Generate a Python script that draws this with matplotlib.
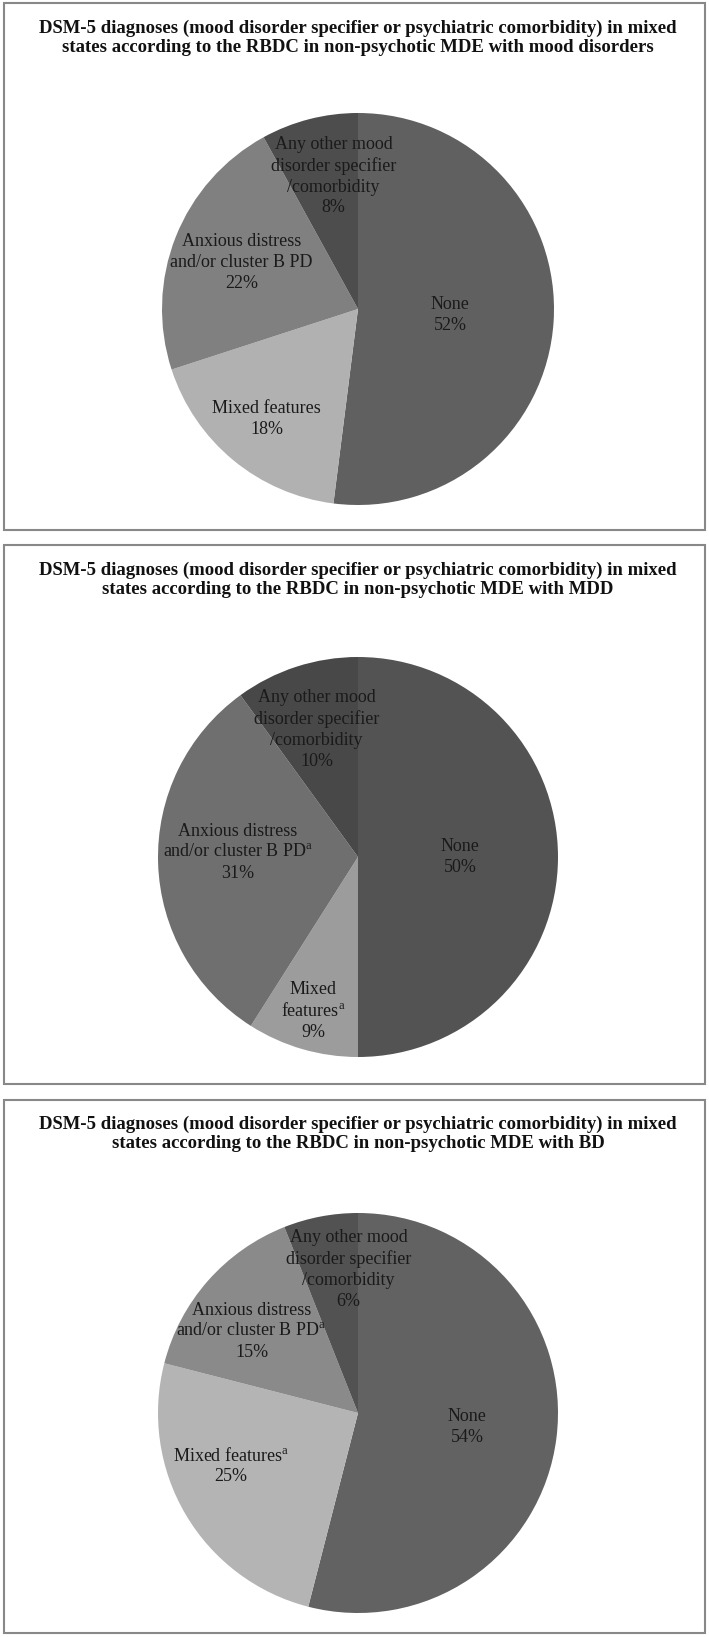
import numpy as np
import matplotlib
matplotlib.use('Agg')
import matplotlib.pyplot as plt
from matplotlib.patches import Rectangle

plt.rcParams['font.family'] = ['Liberation Serif', 'DejaVu Serif']
plt.rcParams['mathtext.fontset'] = 'custom'
plt.rcParams['mathtext.rm'] = 'Liberation Serif'

W, H = 709, 1637

# data
titles = [
    'DSM-5 diagnoses (mood disorder specifier or psychiatric comorbidity) in mixed\n'
    'states according to the RBDC in non-psychotic MDE with mood disorders',
    'DSM-5 diagnoses (mood disorder specifier or psychiatric comorbidity) in mixed\n'
    'states according to the RBDC in non-psychotic MDE with MDD',
    'DSM-5 diagnoses (mood disorder specifier or psychiatric comorbidity) in mixed\n'
    'states according to the RBDC in non-psychotic MDE with BD',
]

categories = ['None', 'Mixed features', 'Anxious distress and/or cluster B PD',
              'Any other mood disorder specifier/comorbidity']

labels_1 = ['None', 'Mixed features', 'Anxious distress\nand/or cluster B PD',
            'Any other mood\ndisorder specifier\n/comorbidity']
labels_2 = ['None', 'Mixed\nfeatures$^{\\mathrm{a}}$', 'Anxious distress\nand/or cluster B PD$^{\\mathrm{a}}$',
            'Any other mood\ndisorder specifier\n/comorbidity']
labels_3 = ['None', 'Mixed features$^{\\mathrm{a}}$', 'Anxious distress\nand/or cluster B PD$^{\\mathrm{a}}$',
            'Any other mood\ndisorder specifier\n/comorbidity']

values_1 = [52, 18, 22, 8]
values_2 = [50, 9, 31, 10]
values_3 = [54, 25, 15, 6]

# style / layout (pixels from top-left)
colors_1 = ['#606060', '#b1b1b1', '#808080', '#4d4d4d']
colors_2 = ['#535353', '#9c9c9c', '#6f6f6f', '#484848']
colors_3 = ['#626262', '#b4b4b4', '#8a8a8a', '#525252']

panels = [
    dict(top=3, bottom=530, title_y=20, cx=358, cy=309, r=196,
         labels=labels_1, values=values_1, colors=colors_1,
         frac=[0.47, 0.73, 0.64, 0.69], dang=[0, 0, 0, -4]),
    dict(top=545, bottom=1084, title_y=562, cx=358, cy=857, r=200,
         labels=labels_2, values=values_2, colors=colors_2,
         frac=[0.51, 0.80, 0.60, 0.67], dang=[0, 0, -4, 0]),
    dict(top=1100, bottom=1633, title_y=1116, cx=358, cy=1413, r=200,
         labels=labels_3, values=values_3, colors=colors_3,
         frac=[0.55, 0.69, 0.67, 0.72], dang=[0, -8, 4, -7]),
]

fig = plt.figure(figsize=(W / 100, H / 100), dpi=100)

for i, p in enumerate(panels):
    # frame
    fig.patches.append(Rectangle((3.5 / W, 1 - p['bottom'] / H), (705 - 3.5) / W,
                                 (p['bottom'] - p['top']) / H, transform=fig.transFigure,
                                 fill=False, ec='#888888', lw=1.5))
    fig.text(358 / W, 1 - p['title_y'] / H, titles[i], ha='center', va='top',
             fontsize=13.5, fontweight='bold', color='#111111', linespacing=1.1)

    R = 200
    ax = fig.add_axes([(p['cx'] - R) / W, 1 - (p['cy'] + R) / H, 2 * R / W, 2 * R / H])
    rn = p['r'] / R
    wedges, _ = ax.pie(p['values'], colors=p['colors'], startangle=90, counterclock=False,
                       radius=rn, wedgeprops=dict(linewidth=0))
    ax.set_xlim(-1, 1)
    ax.set_ylim(-1, 1)
    ax.axis('off')

    for j, w in enumerate(wedges):
        ang = np.deg2rad((w.theta1 + w.theta2) / 2 + p['dang'][j])
        d = p['frac'][j] * rn
        ax.text(d * np.cos(ang), d * np.sin(ang),
                p['labels'][j] + '\n' + str(p['values'][j]) + '%',
                ha='center', va='center', fontsize=13, color='#1a1a1a', linespacing=1.3)

fig.savefig('out.png', dpi=100)
